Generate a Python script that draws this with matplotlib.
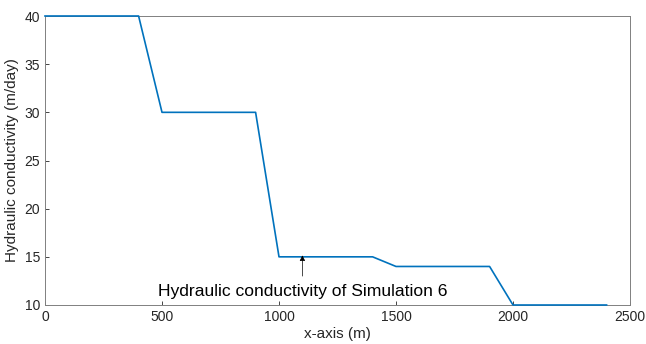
import matplotlib.pyplot as plt

# distance along x-axis (m) and hydraulic conductivity (m/day)
x_m = [0, 400, 500, 900, 1000, 1400, 1500, 1900, 2000, 2400]
k_mday = [40, 40, 30, 30, 15, 15, 14, 14, 10, 10]

label_x = 1100
label_text = 'Hydraulic conductivity of Simulation 6'

plt.rcParams['font.family'] = 'Liberation Sans'

fig = plt.figure(figsize=(6.46, 3.44), dpi=100)
ax = fig.add_axes([45 / 646, 1 - 305 / 344, 585 / 646, 289 / 344])

ax.plot(x_m, k_mday, color='#0072BD', linewidth=1.2, clip_on=False, zorder=3)

ax.set_xlim(0, 2500)
ax.set_ylim(10, 40)
ax.set_xticks([0, 500, 1000, 1500, 2000, 2500])
ax.set_yticks([10, 15, 20, 25, 30, 35, 40])
ax.tick_params(direction='in', length=3, labelsize=10, colors='#262626', width=0.6)
for s in ax.spines.values():
    s.set_color('#808080')
    s.set_linewidth(0.7)

ax.set_xlabel('x-axis (m)', fontsize=11, color='#262626', labelpad=2)
ax.set_ylabel('Hydraulic conductivity (m/day)', fontsize=11, color='#262626', labelpad=4)

# arrow and label
ax.annotate('', xy=(label_x, 15.15), xytext=(label_x, 13.0),
            arrowprops=dict(arrowstyle='-|>', color='black', lw=0.5,
                            mutation_scale=8, shrinkA=0, shrinkB=0))
ax.text(label_x, 11.45, label_text, ha='center', va='center', fontsize=12.6, color='black')

fig.savefig('out.png', dpi=100)
